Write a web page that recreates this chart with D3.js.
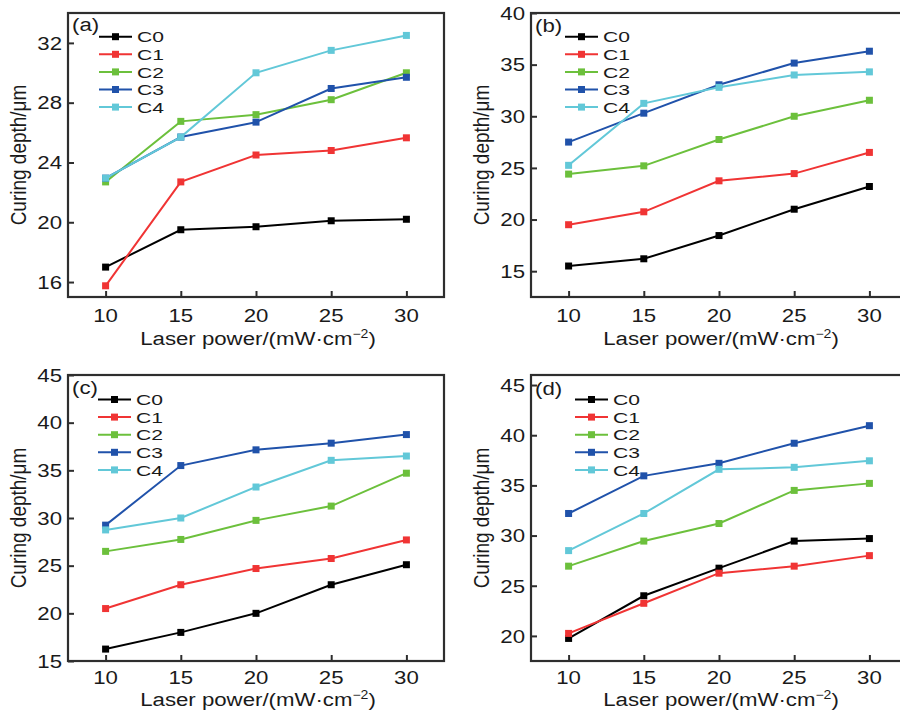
<!DOCTYPE html>
<html><head><meta charset="utf-8">
<script src="https://cdn.jsdelivr.net/npm/d3@7/dist/d3.min.js"></script>
<style>body{margin:0;background:#fff;}svg{display:block;}</style>
</head><body>
<svg id="chart" width="900" height="713"></svg>
<script>
const powers = [10, 15, 20, 25, 30];
const xTicks = [10, 15, 20, 25, 30];
const seriesNames = ["C0", "C1", "C2", "C3", "C4"];
const seriesColors = ["#000000", "#f03434", "#6cc03c", "#2052aa", "#62c8d8"];
const panelLabels = ["(a)", "(b)", "(c)", "(d)"];

const yTicksA = [16, 20, 24, 28, 32];
const yTicksB = [15, 20, 25, 30, 35, 40];
const yTicksC = [15, 20, 25, 30, 35, 40, 45];
const yTicksD = [20, 25, 30, 35, 40, 45];

const depthA = [
  [17.0, 19.5, 19.7, 20.1, 20.2],
  [15.75, 22.7, 24.5, 24.8, 25.65],
  [22.7, 26.75, 27.2, 28.2, 30.0],
  [22.95, 25.7, 26.7, 28.95, 29.7],
  [22.95, 25.7, 30.0, 31.5, 32.5]
];
const depthB = [
  [15.5, 16.2, 18.45, 21.0, 23.2],
  [19.5, 20.75, 23.75, 24.45, 26.5],
  [24.4, 25.2, 27.75, 30.0, 31.55],
  [27.5, 30.3, 33.05, 35.15, 36.3],
  [25.25, 31.25, 32.8, 34.0, 34.3]
];
const depthC = [
  [16.25, 18.0, 20.0, 23.0, 25.1],
  [20.5, 23.0, 24.7, 25.75, 27.7],
  [26.5, 27.75, 29.75, 31.25, 34.7],
  [29.25, 35.5, 37.15, 37.85, 38.75],
  [28.75, 30.0, 33.25, 36.05, 36.5]
];
const depthD = [
  [19.75, 24.0, 26.75, 29.45, 29.7],
  [20.25, 23.25, 26.25, 26.95, 28.0],
  [26.95, 29.45, 31.2, 34.5, 35.2],
  [32.2, 35.95, 37.2, 39.2, 40.95],
  [28.5, 32.2, 36.6, 36.8, 37.45]
];

const panels = [
  {label: panelLabels[0], data: depthA, yTicks: yTicksA, yDom: [15, 34], box: [68, 444, 13, 297], tickOff: 24.5, titleOff: 48, legX: 99, legY: 36.7, labY: 24},
  {label: panelLabels[1], data: depthB, yTicks: yTicksB, yDom: [12.5, 40], box: [531, 907, 13, 297], tickOff: 24.5, titleOff: 48, legX: 565, legY: 36.7, labY: 25},
  {label: panelLabels[2], data: depthC, yTicks: yTicksC, yDom: [15, 45], box: [68, 444, 375, 661], tickOff: 22.5, titleOff: 45, legX: 98, legY: 399.5, labY: 387},
  {label: panelLabels[3], data: depthD, yTicks: yTicksD, yDom: [17.5, 46], box: [531, 907, 375, 661], tickOff: 22.5, titleOff: 45, legX: 575, legY: 399.5, labY: 388}
];

const FONT = "Liberation Sans, Arial, Helvetica, sans-serif";
const FS = 19;
const SX = 1.17;
const LEG_FS = 15.5;
const LEG_SX = 1.36;
const frameColor = "#2e2e2e";
const svg = d3.select("#chart");

function htext(g, x, y, txt, anchor, fs, sx) {
  return g.append("text")
    .attr("transform", `translate(${x},${y}) scale(${sx || SX},1)`)
    .attr("font-family", FONT).attr("font-size", fs || FS).attr("fill", "#1a1a1a")
    .attr("text-anchor", anchor || "start")
    .text(txt);
}

panels.forEach(p => {
  const [L, R, T, B] = p.box;
  const x = d3.scaleLinear().domain([7.5, 32.5]).range([L, R]);
  const y = d3.scaleLinear().domain(p.yDom).range([B, T]);
  const g = svg.append("g");

  const xAxis = d3.axisBottom(x).tickValues(xTicks).tickSizeInner(-6).tickSizeOuter(0).tickFormat("");
  const yAxis = d3.axisLeft(y).tickValues(p.yTicks).tickSizeInner(-6).tickSizeOuter(0).tickFormat("");
  const gx = g.append("g").attr("transform", `translate(0,${B})`).call(xAxis);
  const gy = g.append("g").attr("transform", `translate(${L},0)`).call(yAxis);
  [gx, gy].forEach(a => {
    a.select(".domain").remove();
    a.selectAll(".tick line").attr("stroke", frameColor).attr("stroke-width", 2);
  });

  g.append("rect").attr("x", L).attr("y", T).attr("width", R - L).attr("height", B - T)
    .attr("fill", "none").attr("stroke", frameColor).attr("stroke-width", 2.2);

  xTicks.forEach(v => htext(g, x(v), B + p.tickOff, String(v), "middle"));
  p.yTicks.forEach(v => htext(g, L - 6, y(v) + 6.8, String(v), "end"));

  const xt = htext(g, L + 190, B + p.titleOff, null, "middle");
  xt.append("tspan").text("Laser power/(mW·cm");
  xt.append("tspan").attr("font-size", 12).attr("dy", -7).text("−2");
  xt.append("tspan").attr("dy", 7).text(")");

  g.append("text")
    .attr("transform", `translate(${L - 42},${(T + B) / 2}) scale(${SX},1) rotate(-90)`)
    .attr("font-family", FONT).attr("font-size", FS).attr("fill", "#1a1a1a")
    .attr("text-anchor", "middle").text("Curing depth/μm");

  const line = d3.line().x((d, i) => x(powers[i])).y(d => y(d));
  p.data.forEach((vals, si) => {
    g.append("path").datum(vals).attr("d", line)
      .attr("fill", "none").attr("stroke", seriesColors[si]).attr("stroke-width", 2);
    g.selectAll(null).data(vals).enter().append("rect")
      .attr("x", (d, i) => x(powers[i]) - 3.5).attr("y", d => y(d) - 3.5)
      .attr("width", 7).attr("height", 7).attr("fill", seriesColors[si]);
  });

  htext(g, L + 4, p.labY + 6.5, p.label, "start");

  seriesNames.forEach((name, si) => {
    const ly = p.legY + si * 17.6;
    g.append("line").attr("x1", p.legX).attr("x2", p.legX + 33).attr("y1", ly).attr("y2", ly)
      .attr("stroke", seriesColors[si]).attr("stroke-width", 2);
    g.append("rect").attr("x", p.legX + 16.5 - 3.5).attr("y", ly - 3.5).attr("width", 7).attr("height", 7)
      .attr("fill", seriesColors[si]);
    htext(g, p.legX + 38, ly + 5.6, name, "start", LEG_FS, LEG_SX);
  });
});
</script>
</body></html>
